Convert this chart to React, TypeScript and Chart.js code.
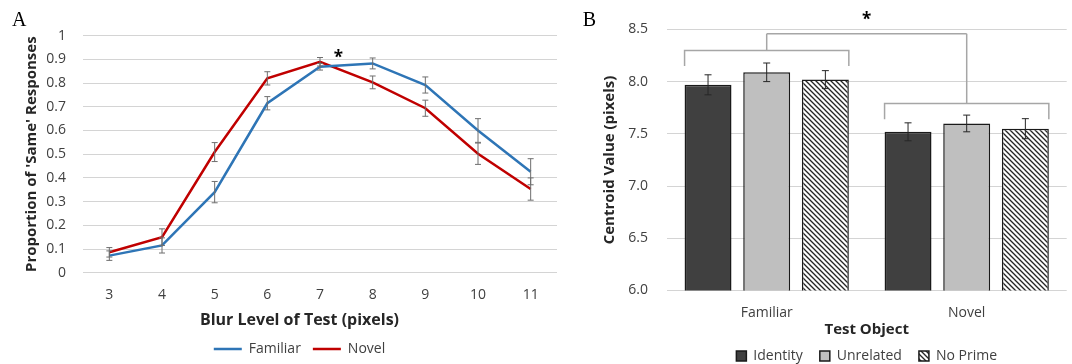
import React, { useEffect, useRef } from "react";
import { Chart, registerables } from "chart.js";

Chart.register(...registerables);

// ---------- Panel A data ----------
const blurLevels = ["3", "4", "5", "6", "7", "8", "9", "10", "11"];
const familiarProp = [0.072, 0.115, 0.34, 0.715, 0.869, 0.883, 0.792, 0.6, 0.426];
const familiarErr = [0.02, 0.032, 0.045, 0.028, 0.014, 0.023, 0.034, 0.05, 0.055];
const novelProp = [0.086, 0.15, 0.509, 0.82, 0.89, 0.803, 0.694, 0.502, 0.353];
const novelErr = [0.02, 0.035, 0.04, 0.028, 0.018, 0.027, 0.034, 0.045, 0.047];
const propMin = 0;
const propMax = 1;
const propStep = 0.1;
// significance marker in panel A (category index, value)
const starAIndex = 4.35;
const starAValue = 0.926;

// ---------- Panel B data ----------
const testObjects = ["Familiar", "Novel"];
const identityVals = [7.97, 7.52];
const identityErr = [0.096, 0.086];
const unrelatedVals = [8.09, 7.6];
const unrelatedErr = [0.089, 0.08];
const noPrimeVals = [8.02, 7.55];
const noPrimeErr = [0.086, 0.096];
const centroidMin = 6.0;
const centroidMax = 8.5;
const centroidStep = 0.5;
// comparison brackets (values on the centroid axis)
const groupBracketLevels = [8.3, 7.79];
const groupBracketLegEnds = [8.15, 7.64];
const topBracketLevel = 8.46;
const starBValue = 8.64;

const FONT = '"Open Sans", "Liberation Sans", sans-serif';
const TICK_COLOR = "#404040";
const TITLE_COLOR = "#262626";
const GRID_COLOR = "#d4d4d4";

function makeHatch(): CanvasPattern | string {
  const s = 5;
  const c = document.createElement("canvas");
  c.width = s;
  c.height = s;
  const g = c.getContext("2d");
  if (!g) return "#ffffff";
  g.fillStyle = "#ffffff";
  g.fillRect(0, 0, s, s);
  g.strokeStyle = "#262626";
  g.lineWidth = 1.3;
  g.beginPath();
  g.moveTo(-1, -1);
  g.lineTo(s + 1, s + 1);
  g.moveTo(-1, s - 1);
  g.lineTo(1, s + 1);
  g.moveTo(s - 1, -1);
  g.lineTo(s + 1, 1);
  g.stroke();
  const p = g.createPattern(c, "repeat");
  return p || "#ffffff";
}

const errorBarPlugin = {
  id: "errorBars",
  afterDatasetsDraw(chart: any, _args: any, opts: any) {
    const { ctx } = chart;
    const yScale = chart.scales.y;
    chart.data.datasets.forEach((ds: any, i: number) => {
      const errs: number[] | undefined = ds.errors;
      if (!errs) return;
      const meta = chart.getDatasetMeta(i);
      ctx.save();
      ctx.strokeStyle = opts.color;
      ctx.lineWidth = opts.width;
      meta.data.forEach((el: any, j: number) => {
        const v = ds.data[j];
        const e = errs[j];
        const top = yScale.getPixelForValue(v + e);
        const bot = yScale.getPixelForValue(v - e);
        const x = el.x;
        const cap = opts.cap;
        ctx.beginPath();
        ctx.moveTo(x, top);
        ctx.lineTo(x, bot);
        ctx.moveTo(x - cap, top);
        ctx.lineTo(x + cap, top);
        ctx.moveTo(x - cap, bot);
        ctx.lineTo(x + cap, bot);
        ctx.stroke();
      });
      ctx.restore();
    });
  },
};

const panelLabelPlugin = {
  id: "panelLabel",
  afterDraw(chart: any, _args: any, opts: any) {
    const { ctx } = chart;
    ctx.save();
    ctx.font = '20px "Liberation Serif", "DejaVu Serif", serif';
    ctx.fillStyle = "#000000";
    ctx.textBaseline = "alphabetic";
    ctx.textAlign = "left";
    ctx.fillText(opts.text, opts.x, opts.y);
    ctx.restore();
  },
};

const starAPlugin = {
  id: "starA",
  afterDatasetsDraw(chart: any) {
    const { ctx } = chart;
    const x = chart.scales.x.getPixelForValue(starAIndex);
    const y = chart.scales.y.getPixelForValue(starAValue);
    ctx.save();
    ctx.font = `bold 17px ${FONT}`;
    ctx.fillStyle = "#000000";
    ctx.textAlign = "center";
    ctx.textBaseline = "alphabetic";
    ctx.fillText("*", x, y + 10);
    ctx.restore();
  },
};

const bracketPlugin = {
  id: "brackets",
  afterDatasetsDraw(chart: any) {
    const { ctx } = chart;
    const yScale = chart.scales.y;
    const n = chart.data.datasets.length;
    const first = chart.getDatasetMeta(0).data;
    const last = chart.getDatasetMeta(n - 1).data;
    const groups = testObjects.map((_, g) => {
      const l = first[g].x - first[g].width / 2;
      const r = last[g].x + last[g].width / 2;
      return { l, r, c: (l + r) / 2 };
    });
    const yt = yScale.getPixelForValue(topBracketLevel);
    ctx.save();
    ctx.strokeStyle = "#a6a6a6";
    ctx.lineWidth = 1.5;
    groups.forEach((gp, g) => {
      const yb = yScale.getPixelForValue(groupBracketLevels[g]);
      const yl = yScale.getPixelForValue(groupBracketLegEnds[g]);
      ctx.beginPath();
      ctx.moveTo(gp.l, yl);
      ctx.lineTo(gp.l, yb);
      ctx.lineTo(gp.r, yb);
      ctx.lineTo(gp.r, yl);
      ctx.moveTo(gp.c, yb);
      ctx.lineTo(gp.c, yt);
      ctx.stroke();
    });
    ctx.beginPath();
    ctx.moveTo(groups[0].c, yt);
    ctx.lineTo(groups[groups.length - 1].c, yt);
    ctx.stroke();
    const sx = (groups[0].c + groups[groups.length - 1].c) / 2;
    const sy = yScale.getPixelForValue(starBValue);
    ctx.font = `bold 17px ${FONT}`;
    ctx.fillStyle = "#000000";
    ctx.textAlign = "center";
    ctx.textBaseline = "alphabetic";
    ctx.fillText("*", sx, sy + 10);
    ctx.restore();
  },
};

export default function App() {
  const refA = useRef<HTMLCanvasElement>(null);
  const refB = useRef<HTMLCanvasElement>(null);

  useEffect(() => {
    const chartA = new Chart(refA.current as HTMLCanvasElement, {
      type: "line",
      data: {
        labels: blurLevels,
        datasets: [
          {
            label: "Familiar",
            data: familiarProp,
            borderColor: "#2E75B6",
            backgroundColor: "#2E75B6",
            borderWidth: 2.5,
            pointRadius: 0,
            pointBorderWidth: 2.5,
            tension: 0,
            errors: familiarErr,
          } as any,
          {
            label: "Novel",
            data: novelProp,
            borderColor: "#C00000",
            backgroundColor: "#C00000",
            borderWidth: 2.5,
            pointRadius: 0,
            pointBorderWidth: 2.5,
            tension: 0,
            errors: novelErr,
          } as any,
        ],
      },
      options: {
        responsive: false,
        animation: false,
        events: [],
        layout: { padding: { top: 35.7, left: 42, right: 3, bottom: 0 } },
        scales: {
          x: {
            offset: true,
            grid: { display: false, drawTicks: false },
            border: { display: false },
            ticks: { padding: 14, font: { family: FONT, size: 14 }, color: TICK_COLOR },
            afterFit: (s: any) => {
              s.height = 40;
            },
          },
          y: {
            min: propMin,
            max: propMax,
            ticks: {
              stepSize: propStep,
              padding: 17,
              font: { family: FONT, size: 14 },
              color: TICK_COLOR,
              callback: (v: any) => String(Math.round(Number(v) * 10) / 10),
            },
            grid: { color: GRID_COLOR, drawTicks: false },
            border: { display: false },
            title: {
              display: true,
              text: "Proportion of 'Same' Responses",
              font: { family: FONT, size: 15, weight: "bold" },
              color: TITLE_COLOR,
              padding: { top: -19.3, bottom: 0 },
            },
            afterFit: (s: any) => {
              s.width = 41;
            },
          },
        },
        plugins: {
          legend: {
            position: "bottom",
            labels: {
              usePointStyle: true,
              pointStyle: "line",
              pointStyleWidth: 28,
              padding: 12,
              font: { family: FONT, size: 14 },
              color: TICK_COLOR,
            },
            title: {
              display: true,
              text: "Blur Level of Test (pixels)",
              font: { family: FONT, size: 16, weight: "bold" },
              color: TITLE_COLOR,
              padding: { top: 0, bottom: -1.9 },
            },
          },
          tooltip: { enabled: false },
          errorBars: { color: "#6f6f6f", width: 1, cap: 3 },
          panelLabel: { text: "A", x: 12, y: 26 },
        } as any,
      },
      plugins: [errorBarPlugin, starAPlugin, panelLabelPlugin],
    });

    const hatch = makeHatch();
    const chartB = new Chart(refB.current as HTMLCanvasElement, {
      type: "bar",
      data: {
        labels: testObjects,
        datasets: [
          {
            label: "Identity",
            data: identityVals,
            backgroundColor: "#404040",
            borderColor: "#1a1a1a",
            borderWidth: 1.5,
            errors: identityErr,
          } as any,
          {
            label: "Unrelated",
            data: unrelatedVals,
            backgroundColor: "#bfbfbf",
            borderColor: "#1a1a1a",
            borderWidth: 1.5,
            errors: unrelatedErr,
          } as any,
          {
            label: "No Prime",
            data: noPrimeVals,
            backgroundColor: hatch,
            borderColor: "#1a1a1a",
            borderWidth: 1.5,
            errors: noPrimeErr,
          } as any,
        ],
      },
      options: {
        responsive: false,
        animation: false,
        events: [],
        datasets: { bar: { categoryPercentage: 0.88, barPercentage: 0.8 } },
        layout: { padding: { top: 29.5, left: 0, right: 5.3, bottom: 0 } },
        scales: {
          x: {
            grid: { display: false, drawTicks: false },
            border: { display: false },
            ticks: { padding: 14, font: { family: FONT, size: 14 }, color: TICK_COLOR },
            title: {
              display: true,
              text: "Test Object",
              font: { family: FONT, size: 15, weight: "bold" },
              color: TITLE_COLOR,
              padding: { top: 0, bottom: -6.3 },
            },
            afterFit: (s: any) => {
              s.height = 41.5;
            },
          },
          y: {
            min: centroidMin,
            max: centroidMax,
            ticks: {
              stepSize: centroidStep,
              padding: 18.7,
              font: { family: FONT, size: 14 },
              color: TICK_COLOR,
              callback: (v: any) => Number(v).toFixed(1),
            },
            grid: { color: GRID_COLOR, drawTicks: false },
            border: { display: false },
            title: {
              display: true,
              text: "Centroid Value (pixels)",
              font: { family: FONT, size: 15, weight: "bold" },
              color: TITLE_COLOR,
              padding: { top: 41, bottom: 0 },
            },
            afterFit: (s: any) => {
              s.width = 106.7;
            },
          },
        },
        plugins: {
          legend: {
            position: "bottom",
            fullSize: false,
            labels: {
              boxWidth: 10,
              boxHeight: 10,
              padding: 17,
              font: { family: FONT, size: 14 },
              color: TICK_COLOR,
            },
          },
          tooltip: { enabled: false },
          errorBars: { color: "#262626", width: 1, cap: 3.5 },
          panelLabel: { text: "B", x: 22.7, y: 26 },
        } as any,
      },
      plugins: [errorBarPlugin, bracketPlugin, panelLabelPlugin],
    });

    return () => {
      chartA.destroy();
      chartB.destroy();
    };
  }, []);

  return (
    <div
      style={{
        position: "fixed",
        left: 0,
        top: 0,
        width: 1072,
        height: 364,
        overflow: "hidden",
        background: "#ffffff",
      }}
    >
      <canvas
        ref={refA}
        width={560}
        height={366}
        style={{ position: "absolute", left: 0, top: 0, width: 560, height: 366 }}
      />
      <canvas
        ref={refB}
        width={512}
        height={373}
        style={{ position: "absolute", left: 560, top: 0, width: 512, height: 373 }}
      />
    </div>
  );
}
